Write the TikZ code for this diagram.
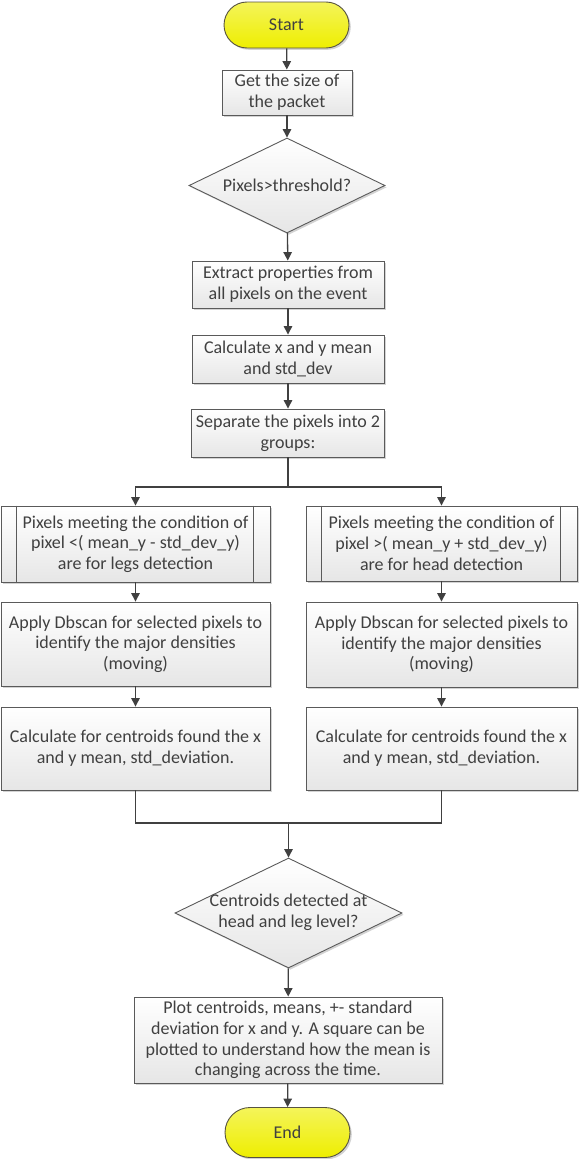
\documentclass[tikz,border=0pt]{standalone}
\usepackage{fontspec}
\setmainfont{Carlito}
\usetikzlibrary{shapes.geometric,shapes.misc,arrows.meta,shadows}
\definecolor{linec}{HTML}{404040}
\definecolor{bordc}{HTML}{5A5A5A}
\definecolor{txtc}{HTML}{404040}
\definecolor{yel}{HTML}{EEEE00}
\definecolor{yeltop}{HTML}{F4F45A}
\definecolor{boxbot}{HTML}{E6E6E6}
\tikzset{
  base/.style={draw=bordc, line width=0.9pt, text=txtc, align=center, inner sep=2pt,
    font=\fontsize{18}{20.7}\selectfont,
    drop shadow={shadow xshift=1.8pt, shadow yshift=-1.8pt, opacity=0.35, fill=gray}},
  proc/.style={base, rectangle, top color=white, bottom color=boxbot},
  term/.style={base, rounded rectangle, top color=yeltop, bottom color=yel, draw=black!60!yellow!60!black},
  dec/.style={base, diamond, inner sep=0pt, top color=white, bottom color=boxbot},
  conn/.style={draw=linec, line width=1.3pt},
  arr/.style={conn, -{Triangle[width=8.5pt,length=8.5pt]}},
}
\newcommand{\ppbars}[1]{%
  \draw[draw=bordc, line width=0.9pt] ([xshift=16pt]#1.north west) -- ([xshift=16pt]#1.south west);
  \draw[draw=bordc, line width=0.9pt] ([xshift=-17pt]#1.north east) -- ([xshift=-17pt]#1.south east);}
\begin{document}
\begin{tikzpicture}[x=1pt,y=-1pt]
\useasboundingbox (0,0) rectangle (579,1159);
\node[term, minimum width=129pt, minimum height=46pt] (start) at (286.5,25) {Start};
\node[proc, minimum width=130pt, minimum height=45pt] (size) at (287,92.5) {Get the size of\\the packet};
\node[dec, minimum width=196pt, minimum height=95pt] (d1) at (287,185.5) {\makebox[0pt]{Pixels>threshold?}};
\node[proc, minimum width=192pt, minimum height=47pt] (ext) at (288,284.5) {Extract properties from\\all pixels on the event};
\node[proc, minimum width=192pt, minimum height=48pt] (calc) at (288,359) {Calculate x and y mean\\and std\_dev};
\node[proc, minimum width=193pt, minimum height=48pt] (sep) at (288,433) {Separate the pixels into 2\\groups:};
\coordinate (split) at (288,487);

\node[proc, minimum width=269pt, minimum height=76pt] (ppL) at (135.5,544) {Pixels meeting the condition of\\pixel <( mean\_y - std\_dev\_y)\\are for legs detection};
\ppbars{ppL}
\node[proc, minimum width=269pt, minimum height=84pt] (appL) at (135.5,644) {Apply Dbscan for selected pixels to\\identify the major densities\\(moving)};
\node[proc, minimum width=269pt, minimum height=83pt] (cenL) at (135.5,748.5) {Calculate for centroids found the x\\and y mean, std\_deviation.};

\node[proc, minimum width=271pt, minimum height=75pt] (ppR) at (441.5,543.5) {Pixels meeting the condition of\\pixel >( mean\_y + std\_dev\_y)\\are for head detection};
\ppbars{ppR}
\node[proc, minimum width=271pt, minimum height=85pt] (appR) at (441.5,644.5) {Apply Dbscan for selected pixels to\\identify the major densities\\(moving)};
\node[proc, minimum width=271pt, minimum height=83pt] (cenR) at (441.5,748.5) {Calculate for centroids found the x\\and y mean, std\_deviation.};

\coordinate (merge) at (288.5,823);
\node[dec, minimum width=227pt, minimum height=110pt] (d2) at (288.5,913) {\makebox[0pt]{\begin{tabular}{@{}c@{}}Centroids detected at\\head and leg level?\end{tabular}}};
\node[proc, minimum width=308pt, minimum height=86pt] (plot) at (288,1040) {Plot centroids, means, +- standard\\deviation for x and y. A square can be\\plotted to understand how the mean is\\changing across the time.};
\node[term, minimum width=129pt, minimum height=50pt] (end) at (287.5,1132.5) {End};

\draw[arr] (start) -- (size);
\draw[arr] (size) -- (d1);
\draw[arr] (d1) -- (ext);
\draw[arr] (ext) -- (calc);
\draw[arr] (calc) -- (sep);
\draw[conn] (sep) -- (split);
\draw[arr] (split) -| (ppL);
\draw[arr] (split) -| (ppR);
\draw[arr] (ppL) -- (appL);
\draw[arr] (appL) -- (cenL);
\draw[arr] (ppR) -- (appR);
\draw[arr] (appR) -- (cenR);
\draw[conn] (cenL) |- (merge);
\draw[conn] (cenR) |- (merge);
\draw[arr] (merge) -- (d2);
\draw[arr] (d2) -- (plot);
\draw[arr] (plot) -- (end);
\end{tikzpicture}
\end{document}
